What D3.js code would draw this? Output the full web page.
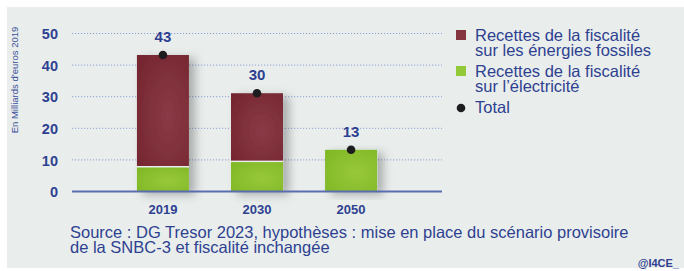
<!DOCTYPE html>
<html><head><meta charset="utf-8">
<script src="https://cdn.jsdelivr.net/npm/d3@7"></script>
<style>body{margin:0;background:#fff}svg{display:block}text{font-family:"Liberation Sans",Arial,sans-serif}</style>
</head><body>
<svg id="c" width="684" height="271"></svg>
<script>
const categories = ["2019", "2030", "2050"];
const electricite = [7.6, 9.3, 13.2];
const fossiles = [35.6, 21.8, 0];
const totalLabels = ["43", "30", "13"];
const yTicks = [0, 10, 20, 30, 40, 50];
const legendLabels = [["Recettes de la fiscalité", "sur les énergies fossiles"], ["Recettes de la fiscalité", "sur l’électricité"], ["Total"]];

const blue = "#2e4190";
const svg = d3.select("#c");
const defs = svg.append("defs");
const f = defs.append("filter").attr("id","sh").attr("x","-30%").attr("y","-10%").attr("width","170%").attr("height","130%");
f.append("feDropShadow").attr("dx",6).attr("dy",3).attr("stdDeviation",5).attr("flood-color","#000").attr("flood-opacity",0.28);
function grad(id, c1, c2){
  const g = defs.append("radialGradient").attr("id",id).attr("cx","60%").attr("cy","55%").attr("r","75%");
  g.append("stop").attr("offset","0%").attr("stop-color",c1);
  g.append("stop").attr("offset","100%").attr("stop-color",c2);
}
grad("gf","#8a3a46","#74262f");
grad("ge","#98c83a","#80b826");

svg.append("rect").attr("x",7).attr("y",7).attr("width",677).attr("height",261).attr("fill","#e9eeed");

const x = d3.scaleBand().domain(categories).range([72, 442]).paddingInner(0.447).paddingOuter(0.69);
const y = d3.scaleLinear().domain([0, 50]).range([191.5, 33.5]);

// grid
svg.append("g").selectAll("line").data(yTicks.filter(d=>d>0)).join("line")
  .attr("x1",72).attr("x2",442).attr("y1",d=>y(d)).attr("y2",d=>y(d))
  .attr("stroke","#8fa0d4").attr("stroke-width",1).attr("stroke-dasharray","1.2,1.8");

// y tick labels
const ya = svg.append("g").attr("transform","translate(58,0)")
  .call(d3.axisLeft(y).tickValues(yTicks).tickSize(0).tickPadding(0));
ya.select(".domain").remove();
ya.selectAll("text").attr("fill",blue).attr("font-size",14.5).attr("font-weight","bold").attr("dy","0.36em").style("font-family","'Liberation Sans',Arial,sans-serif");

// y label
svg.append("text").attr("transform","translate(18,80) rotate(-90)").attr("text-anchor","middle")
  .attr("fill","#3b5099").attr("font-size",9.5).text("En Milliards d’euros 2019");

// bars
const bw = x.bandwidth();
const bars = svg.append("g");
categories.forEach((c,i)=>{
  const g = bars.append("g").attr("filter","url(#sh)");
  const top = electricite[i] + fossiles[i];
  g.append("rect").attr("x",x(c)).attr("width",bw).attr("y",y(top)).attr("height",y(0)-y(top)).attr("fill","#e9eeed");
  g.append("rect").attr("x",x(c)).attr("width",bw).attr("y",y(electricite[i])).attr("height",y(0)-y(electricite[i])).attr("fill","url(#ge)");
  if (fossiles[i] > 0) {
    g.append("rect").attr("x",x(c)).attr("width",bw).attr("y",y(top)).attr("height",y(electricite[i])-y(top)-1.5).attr("fill","url(#gf)");
  }
});

// axis line
svg.append("line").attr("x1",72).attr("x2",442).attr("y1",y(0)).attr("y2",y(0)).attr("stroke","#5a6db0").attr("stroke-width",2);

// x labels
const xa = svg.append("g").attr("transform",`translate(0,${y(0)+13})`)
  .call(d3.axisBottom(x).tickSize(0).tickPadding(0));
xa.select(".domain").remove();
xa.selectAll("text").attr("fill",blue).attr("font-size",13).attr("font-weight","bold").attr("dy","0.71em").style("font-family","'Liberation Sans',Arial,sans-serif");

// total dots and labels
categories.forEach((c,i)=>{
  const t = electricite[i] + fossiles[i];
  svg.append("circle").attr("cx",x(c)+bw/2).attr("cy",y(t)).attr("r",4.3).attr("fill","#1d1d1f");
  svg.append("text").attr("x",x(c)+bw/2).attr("y",y(t)-13).attr("text-anchor","middle")
    .attr("fill",blue).attr("font-size",15).attr("font-weight","bold").text(totalLabels[i]);
});

// legend
const lg = svg.append("g");
const ly = [35, 71, 107];
const lc = ["#853540", "#93c838", "#1d1d1f"];
legendLabels.forEach((lines,i)=>{
  if (i < 2) lg.append("rect").attr("x",456).attr("y",ly[i]-5).attr("width",10).attr("height",10).attr("fill",lc[i]);
  else lg.append("circle").attr("cx",461).attr("cy",ly[i]+1).attr("r",4.3).attr("fill",lc[i]);
  lines.forEach((t,j)=>{
    lg.append("text").attr("x",475).attr("y",ly[i]+j*15).attr("dy","0.35em").attr("fill",blue).attr("font-size",16.5).text(t);
  });
});

// source
const src = ["Source : DG Tresor 2023, hypothèses : mise en place du scénario provisoire", "de la SNBC-3 et fiscalité inchangée"];
src.forEach((t,j)=>{
  svg.append("text").attr("x",70).attr("y",232+j*15).attr("dy","0.35em").attr("fill",blue).attr("font-size",16.5).text(t);
});
svg.append("text").attr("x",679).attr("y",263).attr("dy","0.35em").attr("text-anchor","end").attr("fill",blue).attr("font-size",11).attr("font-weight","bold").text("@I4CE_");
</script>
</body></html>
